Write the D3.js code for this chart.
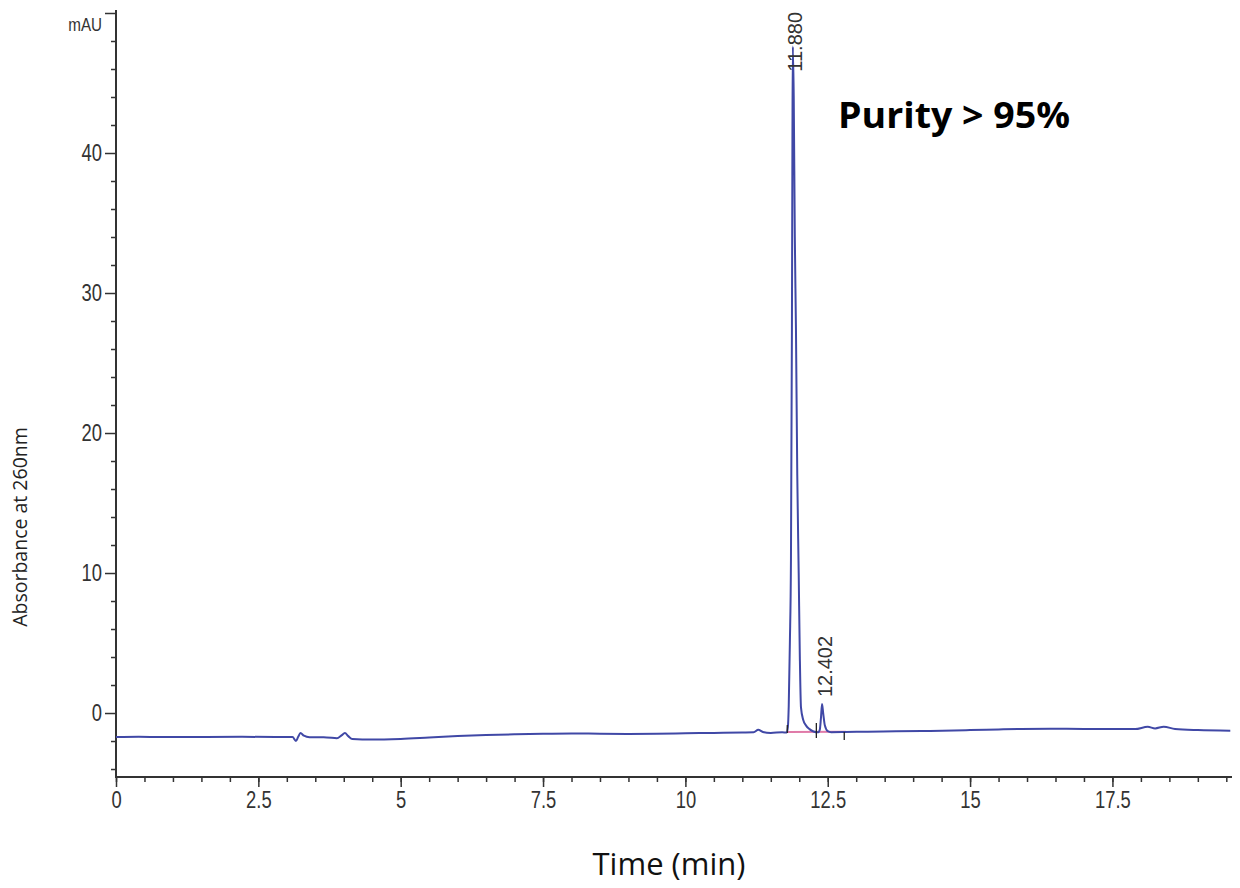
<!DOCTYPE html>
<html>
<head>
<meta charset="utf-8">
<script src="https://cdn.jsdelivr.net/npm/d3@7"></script>
<style>
	body { margin: 0; background: #fff; }
	.tick-label { font-family: "Liberation Sans", Arial, sans-serif; fill: #333; }
</style>
</head>
<body>
<div id="chart-area"></div>
<script>
// SVG Size
let width = 1240,
	height = 888;
const narrow = 0.8;  // horizontal squeeze for the condensed tick font

// Chromatogram trace: time (min) and absorbance (mAU)
const traceTime = [0, 0.4, 0.8, 1.5, 2.2, 2.8, 3.1, 3.16, 3.2, 3.24, 3.3, 3.4, 3.7, 3.88, 3.96, 4.02, 4.08, 4.15,
	4.5, 5.0, 5.5, 6.0, 6.5, 7.0, 7.5, 8.0, 8.5, 9.0, 9.5, 10.0, 10.5, 11.0, 11.2, 11.28, 11.36, 11.5, 11.7, 11.78,
	11.8, 11.815, 11.835, 11.854, 11.871, 11.88, 11.887, 11.903, 11.922, 11.942, 11.965, 11.99, 12.01, 12.03, 12.07,
	12.12, 12.18, 12.25, 12.33, 12.36, 12.38, 12.40, 12.42, 12.45, 12.5, 12.56, 12.8, 13.2, 13.7, 14.3, 15.0, 15.5,
	15.9, 16.5, 17.0, 17.5, 17.9, 18.12, 18.25, 18.4, 18.6, 19.0, 19.57];
const traceValue = [-1.71, -1.69, -1.72, -1.71, -1.70, -1.71, -1.72, -2.0, -1.7, -1.43, -1.62, -1.73, -1.74, -1.80, -1.6, -1.43, -1.65, -1.86,
	-1.90, -1.85, -1.75, -1.65, -1.57, -1.52, -1.48, -1.46, -1.48, -1.49, -1.48, -1.45, -1.42, -1.39, -1.37, -1.2, -1.35, -1.42, -1.38, -1.40,
	-1.0, 0.5, 5.0, 10.9, 27.4, 41.0, 47.6, 44.0, 34.0, 27.4, 17.0, 10.0, 4.0, 0.4, -0.5,
	-0.9, -1.15, -1.32, -1.38, -1.2, -0.4, 0.64, 0.0, -0.9, -1.3, -1.37, -1.36, -1.33, -1.31, -1.28, -1.22, -1.17,
	-1.14, -1.13, -1.14, -1.15, -1.15, -0.98, -1.1, -0.98, -1.14, -1.22, -1.26];

// Peak annotations
const peakTimes = [11.880, 12.402];
const peakHeights = [47.6, 0.64];
const peakLabels = ["11.880", "12.402"];

// Integration baseline and peak start/end markers
const integrationTimes = [11.79, 12.82];
const integrationValues = [-1.36, -1.33];
const markerTimes = [11.79, 12.30, 12.79];
const markerTops = [-0.86, -0.71, -1.36];
const markerBottoms = [-1.43, -1.79, -1.93];

// Axis ticks
const xMajorTicks = [0, 2.5, 5, 7.5, 10, 12.5, 15, 17.5];
const xTickLabels = ["0", "2.5", "5", "7.5", "10", "12.5", "15", "17.5"];
const yMajorTicks = [0, 10, 20, 30, 40, 50];
const yTickLabels = ["0", "10", "20", "30", "40", "mAU"];

const trace = traceTime.map((t, i) => ({ t: t, v: traceValue[i] }));

drawChromatogram();

function drawChromatogram() {

	let svg = d3.select("#chart-area")
		.append("svg")
		.attr("width", width)
		.attr("height", height);

	// Plot frame
	const left = 116, right = 1232, top = 13, bottom = 777;

	const x = d3.scaleLinear()
		.domain([0, 19.6])
		.range([left, right]);

	const y = d3.scaleLinear()
		.domain([-4.57, 50])
		.range([bottom, top]);

	// Minor ticks
	const xMinor = d3.range(0, 19.51, 0.5);
	const yMinor = d3.range(-4, 50, 2).filter(v => v % 10 !== 0);

	// x-axis (major ticks long, minor short)
	const xAxisMinor = d3.axisBottom(x).tickValues(xMinor).tickSize(5).tickFormat("");
	const xAxisMajor = d3.axisBottom(x).tickValues(xMajorTicks).tickSize(10).tickPadding(5)
		.tickFormat((d, i) => xTickLabels[i]);

	svg.append("g")
		.attr("transform", "translate(0," + bottom + ")")
		.call(xAxisMinor)
		.call(g => g.select(".domain").remove());

	let gx = svg.append("g")
		.attr("transform", "translate(0," + bottom + ")")
		.call(xAxisMajor)
		.call(g => g.select(".domain").remove());
	gx.selectAll("text")
		.attr("class", "tick-label")
		.style("font-size", "23px")
		.attr("transform", "scale(" + narrow + ",1)");

	// y-axis
	const yAxisMinor = d3.axisLeft(y).tickValues(yMinor).tickSize(5).tickFormat("");
	const yAxisMajor = d3.axisLeft(y).tickValues(yMajorTicks).tickSize(11).tickPadding(3)
		.tickFormat((d, i) => yTickLabels[i]);

	svg.append("g")
		.attr("transform", "translate(" + left + ",0)")
		.call(yAxisMinor)
		.call(g => g.select(".domain").remove());

	let gy = svg.append("g")
		.attr("transform", "translate(" + left + ",0)")
		.call(yAxisMajor)
		.call(g => g.select(".domain").remove());
	gy.selectAll("text")
		.attr("class", "tick-label")
		.style("font-size", "23px")
		.attr("x", -14 / narrow)
		.attr("transform", "scale(" + narrow + ",1)");
	// the top tick carries the unit instead of a number
	gy.selectAll(".tick").filter(d => d === 50).select("text")
		.style("font-size", "19px")
		.attr("dy", "0.9em");

	svg.selectAll(".tick line")
		.attr("stroke", "#333")
		.attr("stroke-width", 1.5);

	// Axis lines
	svg.append("line")
		.attr("x1", left).attr("x2", left)
		.attr("y1", 10).attr("y2", bottom + 1)
		.attr("stroke", "#333")
		.attr("stroke-width", 2);
	svg.append("line")
		.attr("x1", left - 1).attr("x2", right)
		.attr("y1", bottom).attr("y2", bottom)
		.attr("stroke", "#333")
		.attr("stroke-width", 2);

	// Integration baseline
	svg.append("line")
		.attr("x1", x(integrationTimes[0])).attr("x2", x(integrationTimes[1]))
		.attr("y1", y(integrationValues[0])).attr("y2", y(integrationValues[1]))
		.attr("stroke", "#e07aa8")
		.attr("stroke-width", 2);

	// Chromatogram trace
	const line = d3.line()
		.x(d => x(d.t))
		.y(d => y(d.v))
		.curve(d3.curveMonotoneX);

	svg.append("path")
		.datum(trace)
		.attr("d", line)
		.attr("fill", "none")
		.attr("stroke", "#4048a6")
		.attr("stroke-width", 2)
		.attr("stroke-linejoin", "round");

	// Peak start / end markers
	svg.selectAll(".marker")
		.data(markerTimes)
		.enter()
		.append("line")
		.attr("class", "marker")
		.attr("x1", d => x(d)).attr("x2", d => x(d))
		.attr("y1", (d, i) => y(markerTops[i]))
		.attr("y2", (d, i) => y(markerBottoms[i]))
		.attr("stroke", "#222")
		.attr("stroke-width", 1.3);

	// Retention time labels (rotated, kept inside the frame)
	peakTimes.forEach((t, i) => {
		let label = svg.append("text")
			.attr("font-family", "'Liberation Sans', Arial, sans-serif")
			.attr("font-size", 20)
			.attr("fill", "#333")
			.attr("dy", "0.35em")
			.text(peakLabels[i]);
		const len = label.node().getComputedTextLength();
		const yStart = Math.max(y(peakHeights[i]) - 7, 12 + len);
		label.attr("transform", "translate(" + (x(t) + 3) + "," + yStart + ") rotate(-90)");
	});

	// Purity note
	svg.append("text")
		.attr("x", 838)
		.attr("y", 128)
		.attr("font-family", "'Open Sans', sans-serif")
		.attr("font-weight", "bold")
		.attr("font-size", 36)
		.attr("textLength", 232)
		.attr("lengthAdjust", "spacingAndGlyphs")
		.attr("fill", "#000")
		.text("Purity > 95%");

	// Label x-axis
	svg.append("text")
		.attr("text-anchor", "middle")
		.attr("x", 669)
		.attr("y", 875)
		.attr("font-family", "'Open Sans', sans-serif")
		.attr("font-size", 31)
		.attr("fill", "#111")
		.text("Time (min)");

	// Label y-axis
	svg.append("text")
		.attr("text-anchor", "middle")
		.attr("transform", "rotate(-90)")
		.attr("x", -527)
		.attr("y", 27)
		.attr("font-family", "'Open Sans', sans-serif")
		.attr("font-size", 19.5)
		.attr("fill", "#222")
		.text("Absorbance at 260nm");
}
</script>
</body>
</html>
